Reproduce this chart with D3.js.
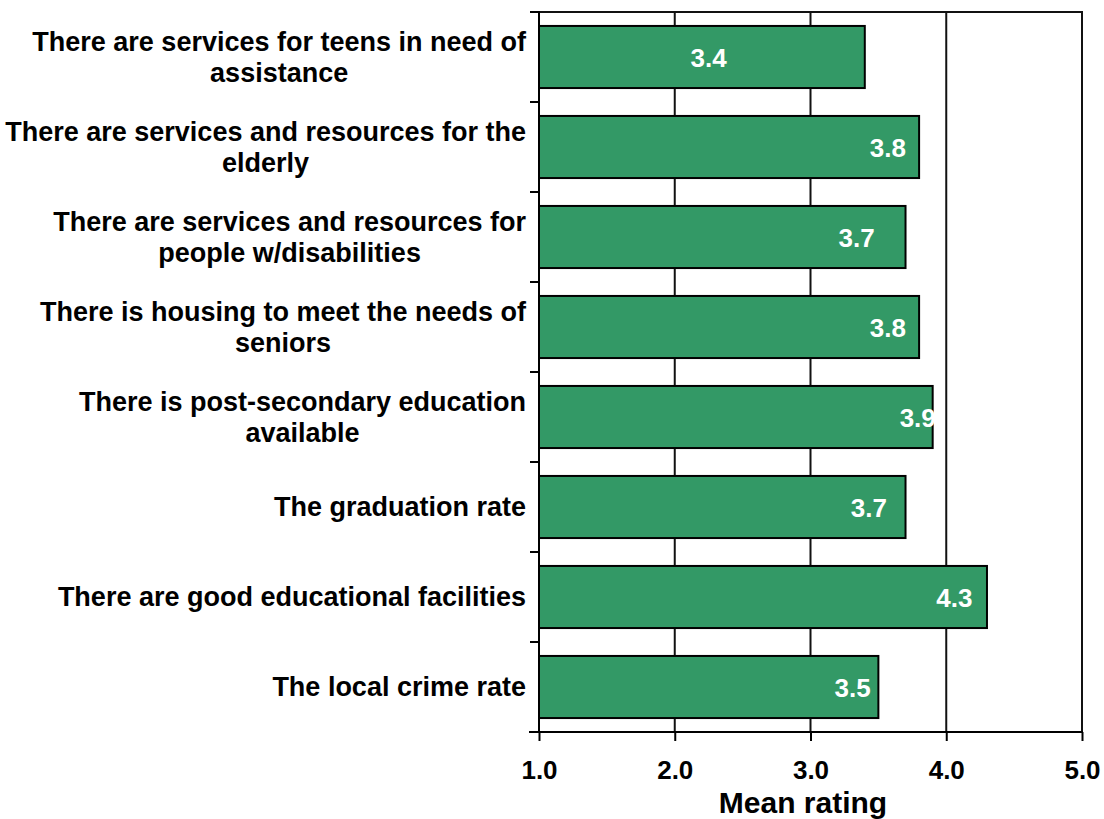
<!DOCTYPE html>
<html><head><meta charset="utf-8">
<script src="https://cdn.jsdelivr.net/npm/d3@7"></script>
<style>body{margin:0;background:#fff}svg{display:block}text{font-family:Arial,"Liberation Sans",sans-serif;font-weight:bold}</style>
</head><body>
<svg id="c" width="1104" height="819"></svg>
<script>
const categories = [
  ["There are services for teens in need of", "assistance"],
  ["There are services and resources for the", "elderly"],
  ["There are services and resources for", "people w/disabilities"],
  ["There is housing to meet the needs of", "seniors"],
  ["There is post-secondary education", "available"],
  ["The graduation rate"],
  ["There are good educational facilities"],
  ["The local crime rate"]
];
const values = [3.4, 3.8, 3.7, 3.8, 3.9, 3.7, 4.3, 3.5];
const labelAt = [2.25, 3.57, 3.34, 3.57, 3.79, 3.43, 4.06, 3.31];
const xTicks = [1, 2, 3, 4, 5];
const xTitle = "Mean rating";

const svg = d3.select("#c");
const L = 539, R = 1082, T = 12, B = 732;
const x = d3.scaleLinear().domain([1, 5]).range([L, R]);
const y = d3.scaleBand().domain(d3.range(categories.length)).range([T, B])
  .paddingInner(0.31).paddingOuter(0.155);
const step = y.step();

// gridlines
svg.append("g").selectAll("line").data(xTicks.slice(1)).join("line")
  .attr("x1", d => x(d)).attr("x2", d => x(d)).attr("y1", T).attr("y2", B)
  .attr("stroke", "#111").attr("stroke-width", 2);
// top border
svg.append("line").attr("x1", L).attr("x2", R + 1).attr("y1", T).attr("y2", T)
  .attr("stroke", "#111").attr("stroke-width", 2);

// bars
svg.append("g").selectAll("rect").data(values).join("rect")
  .attr("x", x(1)).attr("y", (d, i) => y(i))
  .attr("width", d => x(d) - x(1)).attr("height", y.bandwidth())
  .attr("fill", "#339966").attr("stroke", "#000").attr("stroke-width", 2);

// value labels
svg.append("g").selectAll("text").data(values).join("text")
  .attr("x", (d, i) => x(labelAt[i])).attr("y", (d, i) => y(i) + y.bandwidth() / 2 + 10)
  .attr("text-anchor", "middle").attr("fill", "#fff").attr("font-size", 26)
  .text(d => d.toFixed(1));

// y axis
const yAxis = svg.append("g");
yAxis.append("line").attr("x1", L).attr("x2", L).attr("y1", T - 1).attr("y2", B + 1)
  .attr("stroke", "#000").attr("stroke-width", 2);
yAxis.selectAll("line.t").data(d3.range(categories.length + 1)).join("line").attr("class", "t")
  .attr("x1", L - 9).attr("x2", L).attr("y1", d => T + d * step).attr("y2", d => T + d * step)
  .attr("stroke", "#000").attr("stroke-width", 2);

// category labels
const lh = 31;
categories.forEach((lines, i) => {
  const cy = y(i) + y.bandwidth() / 2;
  const g = svg.append("g");
  const ts = lines.map((ln, j) => g.append("text")
    .attr("font-size", 27).attr("fill", "#000").attr("text-anchor", "middle")
    .attr("y", cy - (lines.length - 1) * lh / 2 + j * lh + 9).text(ln));
  const w = d3.max(ts, t => t.node().getComputedTextLength());
  ts.forEach(t => t.attr("x", 526 - w / 2));
});

// x axis
const xa = svg.append("g").attr("transform", `translate(0,${B})`)
  .call(d3.axisBottom(x).tickValues(xTicks).tickFormat(d3.format(".1f")).tickSize(9).tickPadding(0));
xa.select(".domain").remove();
xa.append("line").attr("x1", L - 10).attr("x2", R + 1).attr("y1", 0).attr("y2", 0)
  .attr("stroke", "#000").attr("stroke-width", 2);
xa.selectAll(".tick line").attr("stroke", "#000").attr("stroke-width", 2);
xa.selectAll(".tick text").attr("font-size", 26).attr("fill", "#000").attr("dy", null)
  .attr("y", 47)
  .attr("font-family", "Arial, 'Liberation Sans', sans-serif").attr("font-weight", "bold");

svg.append("text").attr("x", 803).attr("y", 813).attr("text-anchor", "middle")
  .attr("font-size", 30).attr("fill", "#000").text(xTitle);
</script>
</body></html>
